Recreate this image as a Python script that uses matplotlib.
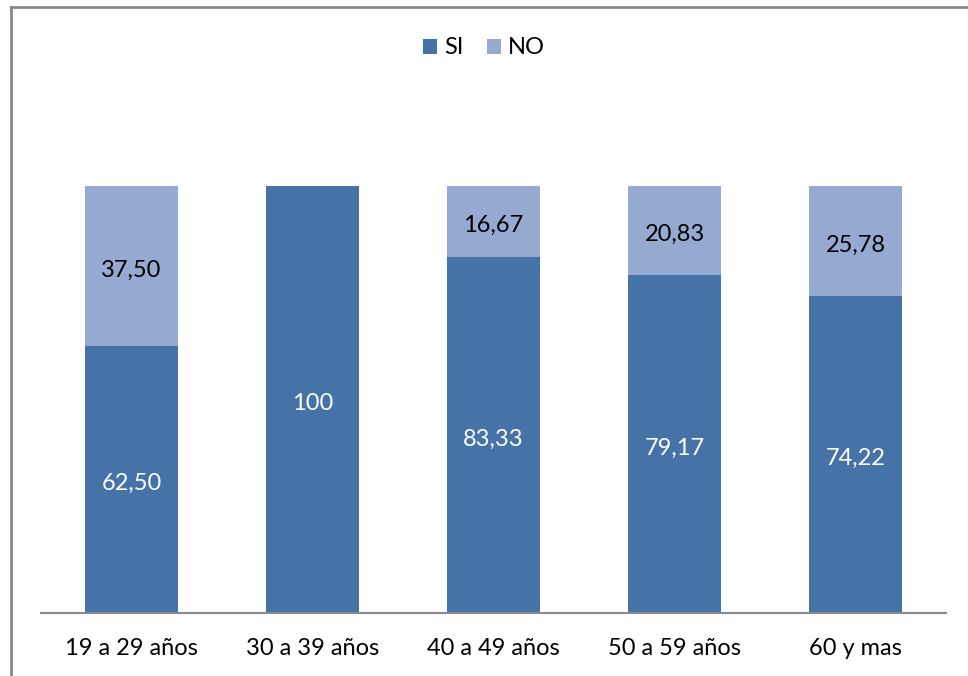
import matplotlib.pyplot as plt
from matplotlib.lines import Line2D
from matplotlib.transforms import offset_copy
import numpy as np

plt.rcParams['font.family'] = ['Lato', 'DejaVu Sans']

# Datos por grupo de edad (%)
grupos = ["19 a 29 años", "30 a 39 años", "40 a 49 años", "50 a 59 años", "60 y mas"]
si = [62.50, 100, 83.33, 79.17, 74.22]
no = [37.50, 0, 16.67, 20.83, 25.78]
etiquetas_si = ["62,50", "100", "83,33", "79,17", "74,22"]
etiquetas_no = ["37,50", "", "16,67", "20,83", "25,78"]

color_si = '#4573A7'
color_no = '#95A9D1'

fig = plt.figure(figsize=(9.68, 6.76), dpi=100)
ax = fig.add_axes([41 / 968, 1 - 613 / 676, 905 / 968, 427 / 676])

x = np.arange(len(grupos))
b1 = ax.bar(x, si, width=0.51, color=color_si, label='SI')
b2 = ax.bar(x, no, width=0.51, bottom=si, color=color_no, label='NO')

# etiquetas un poco más abajo del centro del segmento
trans = offset_copy(ax.transData, fig=fig, x=0, y=-4, units='dots')
for i in range(len(grupos)):
    ax.text(x[i], si[i] / 2, etiquetas_si[i], ha='center', va='center',
            color='white', fontsize=17, transform=trans)
    if etiquetas_no[i]:
        ax.text(x[i], si[i] + no[i] / 2, etiquetas_no[i], ha='center', va='center',
                color='black', fontsize=17, transform=trans)

ax.set_xlim(-0.5, len(grupos) - 0.5)
ax.set_ylim(0, 100)
ax.set_xticks(x)
ax.set_xticklabels(grupos, fontsize=17)
ax.tick_params(axis='x', length=0, pad=18)
ax.set_yticks([])
for lado in ['top', 'right', 'left']:
    ax.spines[lado].set_visible(False)
ax.spines['bottom'].set_color('#898989')
ax.spines['bottom'].set_linewidth(1.5)

fig.legend(handles=[b1, b2], labels=['SI', 'NO'], loc='center',
           bbox_to_anchor=(0.5, 1 - 48 / 676), ncol=2, frameon=False,
           fontsize=17, handlelength=0.6, handleheight=0.6,
           handletextpad=0.3, columnspacing=1.0)

# marco del gráfico
fig.add_artist(Line2D([11 / 968, 11 / 968], [0, 1 - 7 / 676], color='#898989',
                      linewidth=2, transform=fig.transFigure))
fig.add_artist(Line2D([11 / 968, 1], [1 - 7 / 676, 1 - 7 / 676], color='#898989',
                      linewidth=2, transform=fig.transFigure))

fig.savefig('out.png', dpi=100)
